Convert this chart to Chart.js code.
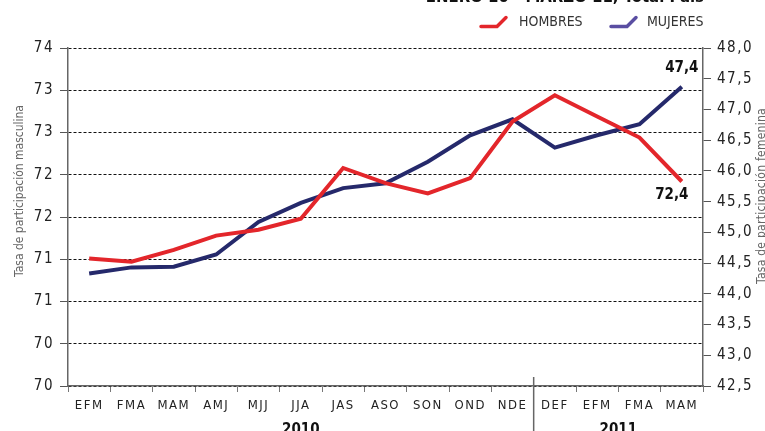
<!DOCTYPE html>
<html>
<head>
<meta charset="utf-8">
<script src="https://cdn.jsdelivr.net/npm/chart.js@4.4.1/dist/chart.umd.min.js"></script>
<style>
  html, body { margin: 0; padding: 0; background: #fff; }
  #wrap { width: 765px; height: 431px; position: relative; }
</style>
</head>
<body>
<div id="wrap"><canvas id="tasas"></canvas></div>
<script>
// trimestres moviles
const periodos = ['EFM','FMA','MAM','AMJ','MJJ','JJA','JAS','ASO','SON','OND','NDE','DEF','EFM','FMA','MAM'];
const hombres = [71.51,71.47,71.61,71.78,71.85,71.98,72.58,72.40,72.28,72.46,73.13,73.44,73.19,72.94,72.42];
const mujeres = [44.33,44.43,44.44,44.64,45.17,45.48,45.72,45.80,46.15,46.58,46.84,46.38,46.58,46.76,47.37];
const anios = ['2010','2011'];
const aniosDesde = [0, 11];
const aniosHasta = [10, 14];

const FAM = "'Liberation Sans Narrow', 'DejaVu Sans Condensed', 'Roboto', sans-serif";
const ROJO = '#e3262b';
const AZUL = '#25296b';

function coma(v, d){
    return v.toFixed(d).replace('.', ',');
}

function tituloVertical(ctx, txt, x, y, largo){
    ctx.save();
    ctx.font = '12px ' + FAM;
    let w = ctx.measureText(txt).width;
    let esp = (largo - w) / txt.length;
    ctx.letterSpacing = esp.toFixed(2) + 'px';
    ctx.translate(x, y);
    ctx.rotate(-Math.PI/2);
    ctx.fillStyle = '#666';
    ctx.textAlign = 'center';
    ctx.textBaseline = 'alphabetic';
    ctx.fillText(txt, 0, 0);
    ctx.restore();
}

function marcaLeyenda(ctx, x, y, color){
    ctx.save();
    ctx.strokeStyle = color;
    ctx.lineWidth = 3.5;
    ctx.lineCap = 'round';
    ctx.lineJoin = 'round';
    ctx.beginPath();
    ctx.moveTo(x, y + 9);
    ctx.lineTo(x + 16, y + 9);
    ctx.lineTo(x + 25, y);
    ctx.stroke();
    ctx.restore();
}

const espaciado = {
    id: 'espaciado',
    beforeDraw(chart){
        chart.ctx.letterSpacing = '1.5px';
    },
    afterDraw(chart){
        chart.ctx.letterSpacing = '0px';
    }
};

const extras = {
    id: 'extras',
    afterDraw(chart){
        const ctx = chart.ctx;
        const x = chart.scales.x;
        ctx.save();
        ctx.letterSpacing = '0px';

        // titulo (cortado arriba)
        let tit = 'ENERO 10 - MARZO 11, Total País';
        ctx.font = 'bold 20px ' + FAM;
        let tw = ctx.measureText(tit).width;
        ctx.font = 'bold ' + (20 * 278 / tw).toFixed(1) + 'px ' + FAM;
        ctx.fillStyle = '#111';
        ctx.textAlign = 'right';
        ctx.textBaseline = 'alphabetic';
        ctx.fillText(tit, 704, 2);

        // leyenda
        marcaLeyenda(ctx, 481, 17.5, ROJO);
        marcaLeyenda(ctx, 611, 17.5, '#5a4ea2');
        ctx.font = '14px ' + FAM;
        ctx.fillStyle = '#333';
        ctx.textAlign = 'left';
        ctx.textBaseline = 'middle';
        ctx.fillText('HOMBRES', 519, 22);
        ctx.fillText('MUJERES', 647, 22);

        // titulos de ejes
        tituloVertical(ctx, 'Tasa de participación masculina', 23, 191, 172);
        tituloVertical(ctx, 'Tasa de participación femenina', 765, 196, 176);

        // separador de años
        let xs = (x.getPixelForValue(10) + x.getPixelForValue(11)) / 2;
        ctx.strokeStyle = '#666';
        ctx.lineWidth = 1.5;
        ctx.beginPath();
        ctx.moveTo(xs, 377);
        ctx.lineTo(xs, 431);
        ctx.stroke();

        // años
        ctx.font = 'bold 15px ' + FAM;
        ctx.fillStyle = '#111';
        ctx.textAlign = 'center';
        ctx.textBaseline = 'alphabetic';
        for(let i = 0; i < anios.length; i++){
            let cx = (x.getPixelForValue(aniosDesde[i]) + x.getPixelForValue(aniosHasta[i])) / 2;
            ctx.fillText(anios[i], cx, 434);
        }

        // valores finales
        const n = periodos.length - 1;
        const pH = chart.getDatasetMeta(0).data[n];
        const pM = chart.getDatasetMeta(1).data[n];
        ctx.font = 'bold 15px ' + FAM;
        ctx.textBaseline = 'middle';
        ctx.fillText(coma(mujeres[n], 1), pM.x, pM.y - 19);
        ctx.fillText(coma(hombres[n], 1), pH.x - 10, pH.y + 14);
        ctx.restore();
    }
};

const data = {
    labels: periodos,
    datasets: [{
            label: 'HOMBRES',
            data: hombres,
            yAxisID: 'yH',
            borderColor: ROJO,
            backgroundColor: ROJO,
            borderWidth: 4,
            pointRadius: 0,
            tension: 0
    }, {
            label: 'MUJERES',
            data: mujeres,
            yAxisID: 'yM',
            borderColor: AZUL,
            backgroundColor: AZUL,
            borderWidth: 4,
            pointRadius: 0,
            tension: 0
    }]
};

const config = {
    type: 'line',
    data: data,
    options: {
        responsive: true,
        maintainAspectRatio: false,
        animation: false,
        layout: { padding: { top: 48, left: 0, right: 0, bottom: 0 } },
        plugins: {
            legend: { display: false },
            tooltip: { enabled: false }
        },
        scales: {
            x: {
                offset: true,
                grid: { offset: true, drawOnChartArea: false, tickLength: 6, color: '#777', lineWidth: 1 },
                border: { color: '#666', width: 1.5 },
                ticks: { font: { family: FAM, size: 13 }, color: '#222', padding: 6, maxRotation: 0, autoSkip: false },
                afterFit: s => { s.height = 45; }
            },
            yH: {
                position: 'left',
                min: 70,
                max: 74,
                ticks: {
                    stepSize: 0.5,
                    callback: v => Math.floor(v),
                    font: { family: FAM, size: 15 },
                    color: '#222',
                    padding: 6
                },
                grid: { color: '#111', lineWidth: 1, tickLength: 8, tickColor: '#555', tickBorderDash: [] },
                border: { color: '#666', width: 1.5, dash: [3, 2] },
                afterFit: s => { s.width = 68; }
            },
            yM: {
                position: 'right',
                min: 42.5,
                max: 48,
                ticks: {
                    stepSize: 0.5,
                    callback: v => coma(v, 1),
                    font: { family: FAM, size: 15 },
                    color: '#222',
                    padding: 6
                },
                grid: { drawOnChartArea: false, tickLength: 8, color: '#555' },
                border: { color: '#666', width: 1.5 },
                afterFit: s => { s.width = 62; }
            }
        }
    },
    plugins: [espaciado, extras]
};

let ctx = document.getElementById('tasas').getContext('2d');
new Chart(ctx, config);
</script>
</body>
</html>
